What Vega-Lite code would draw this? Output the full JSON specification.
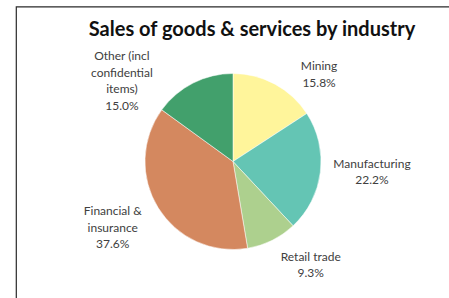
{
  "$schema": "https://vega.github.io/schema/vega-lite/v6.json",
  "autosize": "none",
  "padding": {"left": 16, "top": 6.5, "right": 0, "bottom": 0},
  "width": 434,
  "height": 310,
  "background": "white",
  "view": {"stroke": "#2a2a2a", "strokeWidth": 1.2},
  "config": {"view": {"stroke": "#2a2a2a", "strokeWidth": 1.2}},
  "title": {
    "text": "Sales of goods & services by industry",
    "font": "Lato",
    "fontSize": 20,
    "fontWeight": "bold",
    "color": "#111111",
    "anchor": "middle",
    "offset": -49,
    "baseline": "alphabetic",
    "dx": 19
  },
  "data": {
    "values": [
      {"category": "Mining", "value": 15.8, "label": "Mining\n15.8%"},
      {"category": "Manufacturing", "value": 22.2, "label": "Manufacturing\n22.2%"},
      {"category": "Retail trade", "value": 9.3, "label": "Retail trade\n9.3%"},
      {"category": "Financial & insurance", "value": 37.6, "label": "Financial &\ninsurance\n37.6%"},
      {"category": "Other (incl confidential items)", "value": 15.0, "label": "Other (incl\nconfidential\nitems)\n15.0%"}
    ]
  },
  "transform": [{"window": [{"op": "row_number", "as": "idx"}]}],
  "encoding": {
    "theta": {"field": "value", "type": "quantitative", "stack": true},
    "order": {"field": "idx", "type": "quantitative", "sort": "ascending"},
    "color": {
      "field": "category",
      "type": "nominal",
      "scale": {
        "domain": ["Mining", "Manufacturing", "Retail trade", "Financial & insurance", "Other (incl confidential items)"],
        "range": ["#FFF59B", "#64C5B4", "#ADD08E", "#D4885F", "#42A06C"]
      },
      "legend": null
    }
  },
  "layer": [
    {"mark": {"type": "arc", "outerRadius": 88, "stroke": "white", "strokeWidth": 0.5}},
    {
      "mark": {"type": "text", "radius": 125, "dx": 26.5, "dy": 14.7, "font": "Lato", "fontSize": 12, "lineHeight": 16.5, "lineBreak": "\n", "align": "center", "baseline": "middle"},
      "encoding": {"text": {"condition": {"test": "datum.category === 'Mining'", "field": "label"}, "value": ""}, "color": {"value": "#404040"}}
    },
    {
      "mark": {"type": "text", "radius": 125, "dx": 14.9, "dy": -12.6, "font": "Lato", "fontSize": 12, "lineHeight": 16.5, "lineBreak": "\n", "align": "center", "baseline": "middle"},
      "encoding": {"text": {"condition": {"test": "datum.category === 'Manufacturing'", "field": "label"}, "value": ""}, "color": {"value": "#404040"}}
    },
    {
      "mark": {"type": "text", "radius": 125, "dx": 22.3, "dy": -16.6, "font": "Lato", "fontSize": 12, "lineHeight": 16.5, "lineBreak": "\n", "align": "center", "baseline": "middle"},
      "encoding": {"text": {"condition": {"test": "datum.category === 'Retail trade'", "field": "label"}, "value": ""}, "color": {"value": "#404040"}}
    },
    {
      "mark": {"type": "text", "radius": 125, "dx": -14, "dy": -16.3, "font": "Lato", "fontSize": 12, "lineHeight": 16.5, "lineBreak": "\n", "align": "center", "baseline": "middle"},
      "encoding": {"text": {"condition": {"test": "datum.category === 'Financial & insurance'", "field": "label"}, "value": ""}, "color": {"value": "#404040"}}
    },
    {
      "mark": {"type": "text", "radius": 125, "dx": -54.3, "dy": 6.2, "font": "Lato", "fontSize": 12, "lineHeight": 16.5, "lineBreak": "\n", "align": "center", "baseline": "middle"},
      "encoding": {"text": {"condition": {"test": "datum.category === 'Other (incl confidential items)'", "field": "label"}, "value": ""}, "color": {"value": "#404040"}}
    }
  ]
}
